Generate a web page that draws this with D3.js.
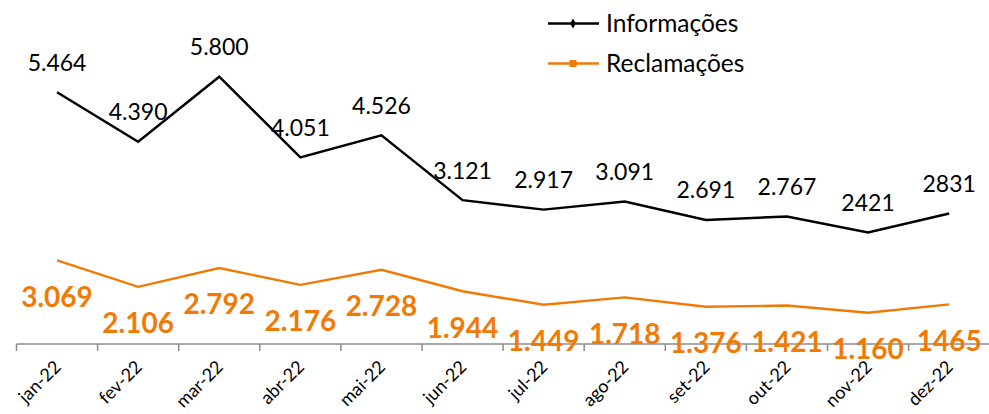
<!DOCTYPE html>
<html>
<head>
<meta charset="utf-8">
<script src="https://cdn.jsdelivr.net/npm/d3@7"></script>
<style>
  html, body { margin: 0; padding: 0; background: #ffffff; }
  svg { display: block; font-family: Lato, "Noto Sans", sans-serif; }
</style>
</head>
<body>
<svg id="chart" width="989" height="414"></svg>
<script>
const months = ["jan-22","fev-22","mar-22","abr-22","mai-22","jun-22","jul-22","ago-22","set-22","out-22","nov-22","dez-22"];
const informacoes = [5464,4390,5800,4051,4526,3121,2917,3091,2691,2767,2421,2831];
const reclamacoes = [3069,2106,2792,2176,2728,1944,1449,1718,1376,1421,1160,1465];
const informacoesLabels = ["5.464","4.390","5.800","4.051","4.526","3.121","2.917","3.091","2.691","2.767","2421","2831"];
const reclamacoesLabels = ["3.069","2.106","2.792","2.176","2.728","1.944","1.449","1.718","1.376","1.421","1.160","1465"];
const seriesNames = ["Informações","Reclamações"];

const BLACK = "#000000";
const ORANGE = "#F07A05";

const svg = d3.select("#chart");
const x = d3.scaleBand().domain(months).range([16.5, 989.7]).padding(0);
const cx = m => x(m) + x.bandwidth() / 2;
const y1 = d3.scaleLinear().domain([0, 6000]).range([344, 67.5]);
const y2 = d3.scaleLinear().domain([0, 10000]).range([344.5, 70.5]);

// axis
const axisG = svg.append("g").attr("class", "x-axis");
axisG.append("line")
  .attr("x1", x.range()[0]).attr("x2", x.range()[1])
  .attr("y1", 344).attr("y2", 344)
  .attr("stroke", "#8c8c8c").attr("stroke-width", 1.5);
const boundaries = months.map(m => x(m)).concat([x.range()[1]]);
axisG.selectAll("line.tick").data(boundaries).join("line")
  .attr("class", "tick")
  .attr("x1", d => d).attr("x2", d => d)
  .attr("y1", 344).attr("y2", 351)
  .attr("stroke", "#8c8c8c").attr("stroke-width", 1.5);
axisG.selectAll("text").data(months).join("text")
  .attr("transform", d => `translate(${cx(d) + 5},${368}) rotate(-45)`)
  .attr("text-anchor", "end")
  .attr("font-size", 18)
  .attr("fill", "#000")
  .text(d => d);

// lines
const line1 = d3.line().x((d, i) => cx(months[i])).y(d => y1(d));
const line2 = d3.line().x((d, i) => cx(months[i])).y(d => y2(d));
svg.append("path").datum(informacoes).attr("d", line1)
  .attr("fill", "none").attr("stroke", BLACK).attr("stroke-width", 2.4).attr("stroke-linejoin", "miter");
svg.append("path").datum(reclamacoes).attr("d", line2)
  .attr("fill", "none").attr("stroke", ORANGE).attr("stroke-width", 2.4).attr("stroke-linejoin", "miter");

// labels
svg.append("g").selectAll("text").data(informacoes).join("text")
  .attr("x", (d, i) => cx(months[i]))
  .attr("y", d => y1(d) - 21.5)
  .attr("text-anchor", "middle")
  .attr("font-size", 23)
  .attr("fill", BLACK)
  .text((d, i) => informacoesLabels[i]);
svg.append("g").selectAll("text").data(reclamacoes).join("text")
  .attr("x", (d, i) => cx(months[i]))
  .attr("y", d => y2(d) + 46.5)
  .attr("text-anchor", "middle")
  .attr("font-size", 28)
  .attr("font-weight", "bold")
  .attr("fill", ORANGE)
  .text((d, i) => reclamacoesLabels[i]);

// legend
const legend = svg.append("g").attr("class", "legend");
const legendColors = [BLACK, ORANGE];
const legendSymbols = [d3.symbolDiamond, d3.symbolSquare];
const legendSizes = [28, 49];
seriesNames.forEach((name, i) => {
  const ly = 23.5 + i * 40;
  legend.append("line").attr("x1", 548).attr("x2", 599).attr("y1", ly).attr("y2", ly)
    .attr("stroke", legendColors[i]).attr("stroke-width", 2.4);
  legend.append("path").attr("d", d3.symbol(legendSymbols[i], legendSizes[i])())
    .attr("transform", `translate(573,${ly})`).attr("fill", legendColors[i]);
  legend.append("text").attr("x", 606).attr("y", ly + 8)
    .attr("font-size", 24.5).attr("fill", "#000").text(name);
});
</script>
</body>
</html>
